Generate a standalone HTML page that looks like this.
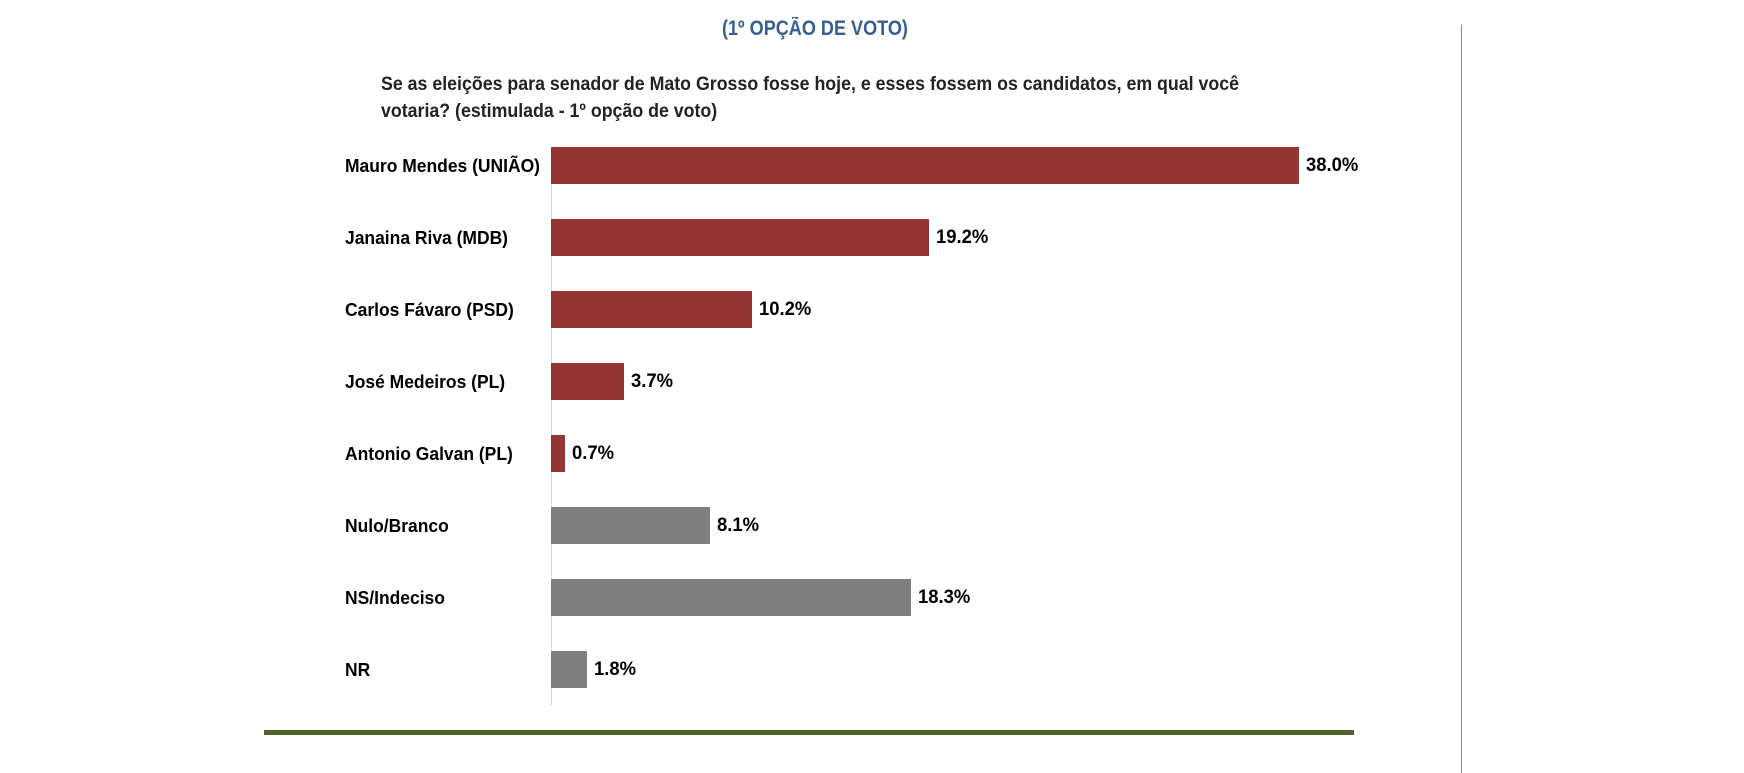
<!DOCTYPE html>
<html><head><meta charset="utf-8"><style>
body{margin:0;width:1744px;height:773px;background:#fff;position:relative;overflow:hidden;font-family:"Liberation Sans",Arial,sans-serif;font-weight:bold;}
.t{position:absolute;white-space:nowrap;transform-origin:0 50%;transform:scaleX(0.97);line-height:1;}
.bar{position:absolute;left:551px;height:37px;}
.r{background:#943634;}.g{background:#7f7f7f;}
</style></head><body>
<div class="t" style="left:722px;top:18px;font-size:21px;color:#365f91;transform:scaleX(0.86);">(1º OPÇÃO DE VOTO)</div>
<div style="position:absolute;left:1461px;top:25px;width:1px;height:748px;background:#888;"></div>
<div class="t" style="left:381px;top:75px;font-size:19px;color:#222;transform:scaleX(0.935);">Se as eleições para senador de Mato Grosso fosse hoje, e esses fossem os candidatos, em qual você</div>
<div class="t" style="left:381px;top:102px;font-size:19px;color:#222;transform:scaleX(0.935);">votaria? (estimulada - 1º opção de voto)</div>
<div style="position:absolute;left:551px;top:147px;width:1px;height:558px;background:#c6d9f1;"></div>

<div class="bar r" style="top:147px;width:748px"></div>
<div class="bar r" style="top:219px;width:378px"></div>
<div class="bar r" style="top:291px;width:201px"></div>
<div class="bar r" style="top:363px;width:73px"></div>
<div class="bar r" style="top:435px;width:14px"></div>
<div class="bar g" style="top:507px;width:159px"></div>
<div class="bar g" style="top:579px;width:360px"></div>
<div class="bar g" style="top:651px;width:36px"></div>

<div class="t" style="left:345px;top:157px;font-size:18px;">Mauro Mendes (UNIÃO)</div>
<div class="t" style="left:345px;top:229px;font-size:18px;">Janaina Riva (MDB)</div>
<div class="t" style="left:345px;top:301px;font-size:18px;">Carlos Fávaro (PSD)</div>
<div class="t" style="left:345px;top:373px;font-size:18px;">José Medeiros (PL)</div>
<div class="t" style="left:345px;top:445px;font-size:18px;">Antonio Galvan (PL)</div>
<div class="t" style="left:345px;top:517px;font-size:18px;">Nulo/Branco</div>
<div class="t" style="left:345px;top:589px;font-size:18px;">NS/Indeciso</div>
<div class="t" style="left:345px;top:661px;font-size:18px;">NR</div>

<div class="t" style="left:1306px;top:156px;font-size:19px;">38.0%</div>
<div class="t" style="left:936px;top:228px;font-size:19px;">19.2%</div>
<div class="t" style="left:759px;top:300px;font-size:19px;">10.2%</div>
<div class="t" style="left:631px;top:372px;font-size:19px;">3.7%</div>
<div class="t" style="left:572px;top:444px;font-size:19px;">0.7%</div>
<div class="t" style="left:717px;top:516px;font-size:19px;">8.1%</div>
<div class="t" style="left:918px;top:588px;font-size:19px;">18.3%</div>
<div class="t" style="left:594px;top:660px;font-size:19px;">1.8%</div>

<div style="position:absolute;left:264px;top:730px;width:1090px;height:5px;background:#4f6228;"></div>
</body></html>
